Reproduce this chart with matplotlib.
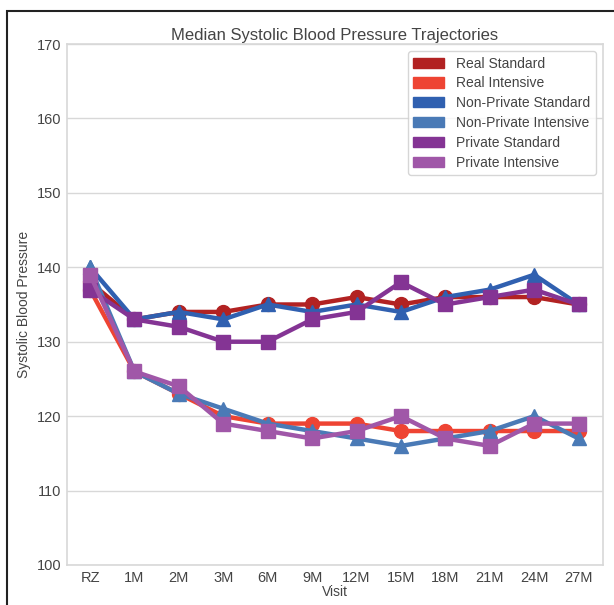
import numpy as np
import matplotlib
matplotlib.use('Agg')
import matplotlib.pyplot as plt
import matplotlib.patches as mpatches
import seaborn as sns

# Dados
visitas = ['RZ', '1M', '2M', '3M', '6M', '9M', '12M', '15M', '18M', '21M', '24M', '27M']
real_padrao = [138, 133, 134, 134, 135, 135, 136, 135, 136, 136, 136, 135]
real_intensivo = [137, 126, 123, 120, 119, 119, 119, 118, 118, 118, 118, 118]
nao_priv_padrao = [140, 133, 134, 133, 135, 134, 135, 134, 136, 137, 139, 135]
nao_priv_intensivo = [140, 126, 123, 121, 119, 118, 117, 116, 117, 118, 120, 117]
priv_padrao = [137, 133, 132, 130, 130, 133, 134, 138, 135, 136, 137, 135]
priv_intensivo = [139, 126, 124, 119, 118, 117, 118, 120, 117, 116, 119, 119]

series = [
    ('Real Standard', real_padrao, '#B22222', 'o'),
    ('Real Intensive', real_intensivo, '#EE4433', 'o'),
    ('Non-Private Standard', nao_priv_padrao, '#3060B0', '^'),
    ('Non-Private Intensive', nao_priv_intensivo, '#4A7AB6', '^'),
    ('Private Standard', priv_padrao, '#843494', 's'),
    ('Private Intensive', priv_intensivo, '#A057A8', 's'),
]

sns.set_style('whitegrid')
plt.rcParams['font.family'] = ['Liberation Sans', 'DejaVu Sans']
plt.rcParams['text.color'] = '#444444'
plt.rcParams['axes.labelcolor'] = '#444444'
plt.rcParams['xtick.color'] = '#444444'
plt.rcParams['ytick.color'] = '#444444'

fig = plt.figure(figsize=(6.14, 6.05), dpi=100)
ax = fig.add_axes([67 / 614, 1 - 565 / 605, (603 - 67) / 614, (565 - 44) / 605])

x = np.arange(len(visitas))
handles = []
for nome, valores, cor, marcador in series:
    ax.plot(x, valores, color=cor, marker=marcador, linewidth=3.2, markersize=10,
            markeredgecolor=cor)
    handles.append(mpatches.Patch(color=cor, label=nome))

ax.set_xlim(-0.52, 11.55)
ax.set_ylim(100, 170)
ax.set_yticks(np.arange(100, 171, 10))
ax.set_xticks(x)
ax.set_xticklabels(visitas)
ax.tick_params(labelsize=10.5, length=0, pad=4)
ax.grid(axis='x', visible=False)
ax.grid(axis='y', color='#d8d8d8', linewidth=1)
for sp in ax.spines.values():
    sp.set_color('#d8d8d8')
    sp.set_linewidth(1.2)

ax.set_xlabel('Visit', fontsize=10, labelpad=0)
ax.set_ylabel('Systolic Blood Pressure', fontsize=10, labelpad=4)
ax.set_title('Median Systolic Blood Pressure Trajectories', fontsize=12, pad=3)

leg = ax.legend(handles=handles, loc='upper right', fontsize=10, frameon=True,
                handlelength=2.2, handleheight=0.75, labelspacing=0.42,
                handletextpad=0.9, borderaxespad=0.5, fancybox=True)
leg.get_frame().set_edgecolor('#cccccc')

# moldura preta da figura
fig.patches.append(mpatches.Rectangle((7 / 614, -0.1), 1.2, 1 - 11 / 605 + 0.1,
                                      transform=fig.transFigure, fill=False,
                                      edgecolor='#222222', linewidth=1.5))

fig.savefig('out.png', dpi=100)
